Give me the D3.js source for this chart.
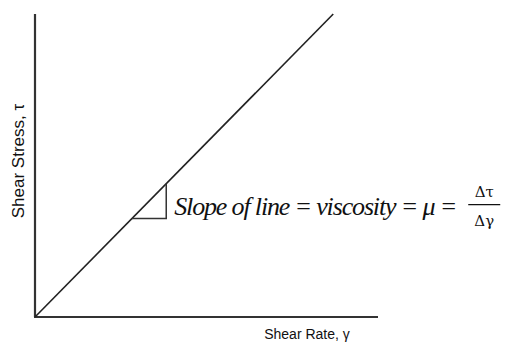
<!DOCTYPE html>
<html>
<head>
<meta charset="utf-8">
<script src="https://cdn.jsdelivr.net/npm/d3@7"></script>
<style>
  body { margin: 0; background: #fff; }
</style>
</head>
<body>
<script>
// data: shear rate vs shear stress (newtonian fluid, arbitrary units)
const shearRate = [0, 1];
const shearStress = [0, 1];
// slope triangle corners (in shear rate units)
const triRate = [0.325, 0.44];
const xDomain = [0, 1.15];
const yDomain = [0, 1];
const xLabel = "Shear Rate, \u03b3";
const yLabel = "Shear Stress, \u03c4";

let width = 512, height = 352;
let margin = {top: 14, right: 134, bottom: 35, left: 35};

let x = d3.scaleLinear().domain(xDomain).range([margin.left, width - margin.right]);
let y = d3.scaleLinear().domain(yDomain).range([height - margin.bottom, margin.top]);

let svg = d3.select("body").append("svg")
    .attr("width", width)
    .attr("height", height);

// axes - plain lines, no ticks
svg.append("line")
    .attr("x1", x(0) - 1).attr("y1", y(0))
    .attr("x2", x(xDomain[1])).attr("y2", y(0))
    .style("stroke", "#333").style("stroke-width", 2.2);
svg.append("line")
    .attr("x1", x(0)).attr("y1", y(0))
    .attr("x2", x(0)).attr("y2", y(yDomain[1]))
    .style("stroke", "#333").style("stroke-width", 2.2);

// the line itself
let valueline = d3.line()
    .x(function(d, i) { return x(shearRate[i]); })
    .y(function(d) { return y(d); });

svg.append("path")
    .attr("d", valueline(shearStress))
    .style("stroke", "#222")
    .style("stroke-width", 1.6)
    .style("fill", "none");

// slope triangle
let slope = (shearStress[1] - shearStress[0]) / (shearRate[1] - shearRate[0]);
let tri = [
    [triRate[0], triRate[0] * slope],
    [triRate[1], triRate[0] * slope],
    [triRate[1], triRate[1] * slope]
];
svg.append("path")
    .attr("d", d3.line().x(d => x(d[0])).y(d => y(d[1]))(tri))
    .style("stroke", "#333")
    .style("stroke-width", 1.5)
    .style("fill", "none");

// annotation
let ty = y(triRate[0] * slope);
svg.append("text")
    .attr("x", x(triRate[1]) + 8)
    .attr("y", ty - 4)
    .attr("textLength", 283)
    .style("font-family", "'Liberation Serif', serif")
    .style("font-style", "italic")
    .style("font-size", "26px")
    .style("fill", "#111")
    .text("Slope of line = viscosity = \u03bc =");

let fx = x(triRate[1]) + 318;
svg.append("text")
    .attr("x", fx).attr("y", ty - 22)
    .attr("text-anchor", "middle")
    .style("font-family", "'DejaVu Serif', serif")
    .style("font-size", "15px")
    .style("fill", "#111")
    .text("\u0394\u03c4");
svg.append("line")
    .attr("x1", fx - 16).attr("x2", fx + 16)
    .attr("y1", ty - 14).attr("y2", ty - 14)
    .style("stroke", "#111").style("stroke-width", 1.3);
svg.append("text")
    .attr("x", fx).attr("y", ty + 7)
    .attr("text-anchor", "middle")
    .style("font-family", "'DejaVu Serif', serif")
    .style("font-size", "15px")
    .style("fill", "#111")
    .text("\u0394\u03b3");

// axis labels
svg.append("text")
    .attr("x", 307).attr("y", 339)
    .attr("text-anchor", "middle")
    .style("font-family", "'Liberation Sans', Arial, sans-serif")
    .style("font-size", "14px")
    .style("fill", "#111")
    .text(xLabel);

svg.append("text")
    .attr("transform", "translate(24,161) rotate(-90)")
    .attr("text-anchor", "middle")
    .style("font-family", "'Liberation Sans', Arial, sans-serif")
    .style("font-size", "17px")
    .style("fill", "#111")
    .text(yLabel);
</script>
</body>
</html>
